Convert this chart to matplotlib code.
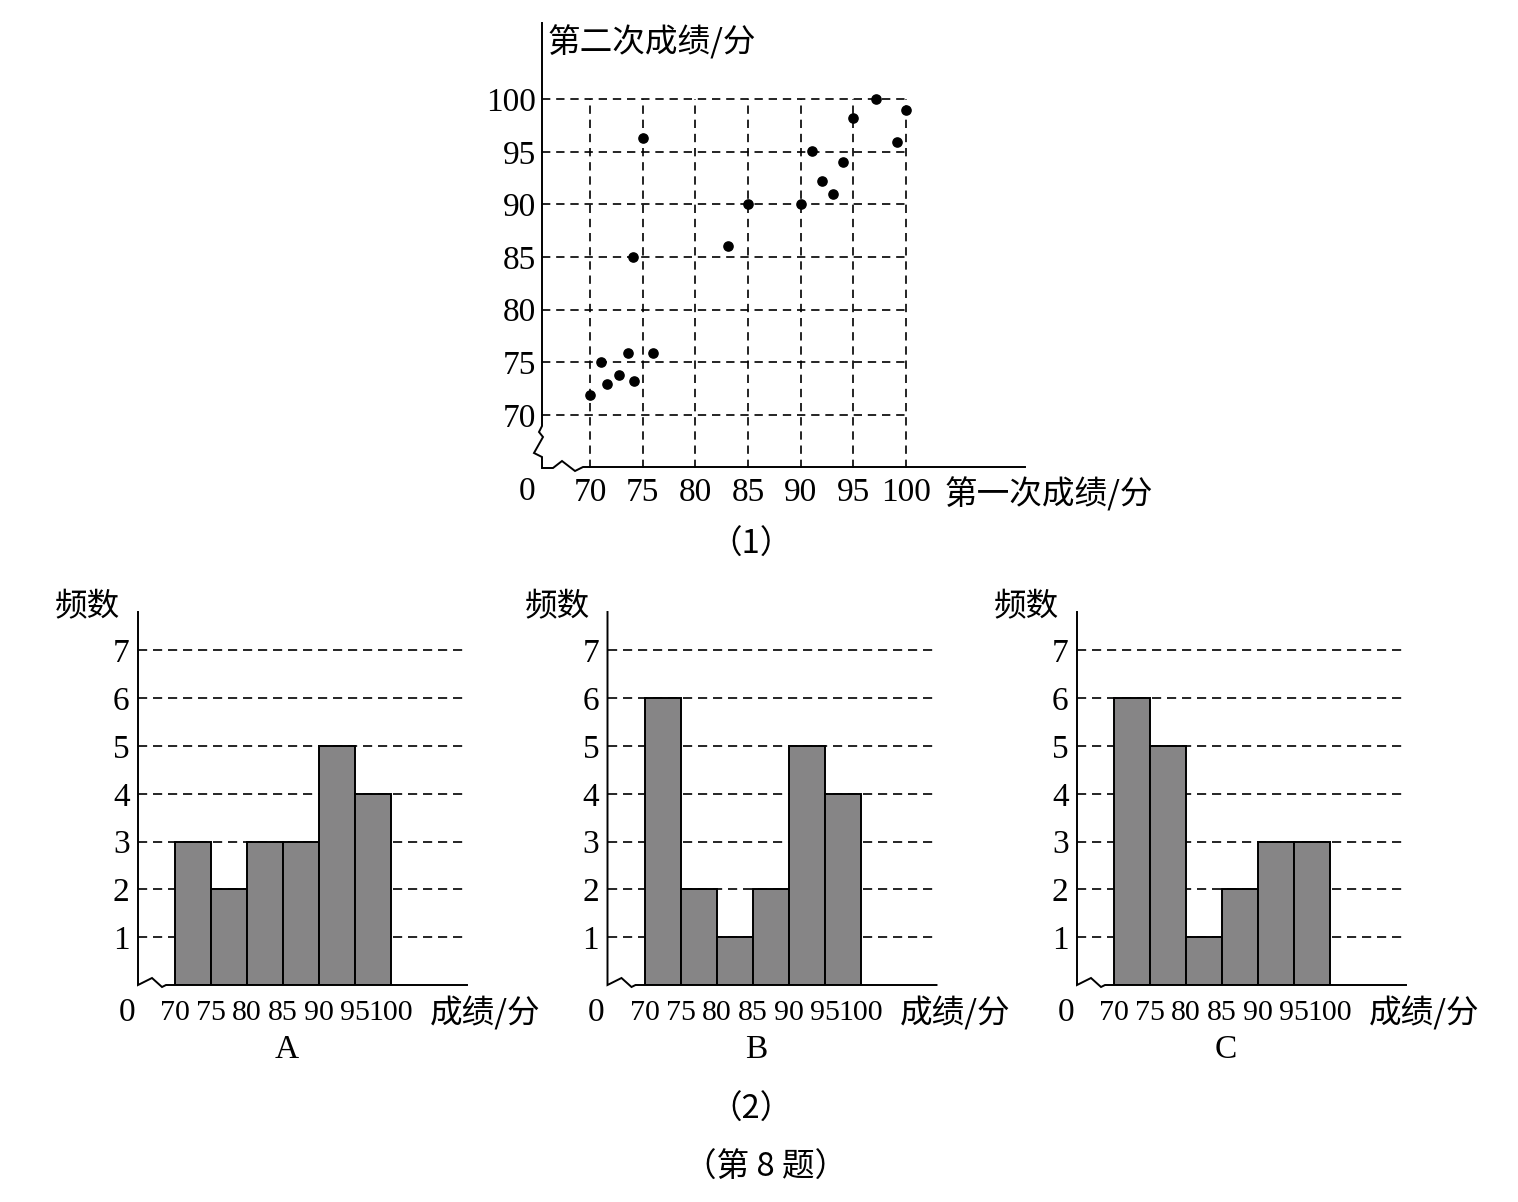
import numpy as np
import matplotlib
matplotlib.use("Agg")
import matplotlib.pyplot as plt

plt.rcParams['font.family'] = ['Liberation Serif', 'Noto Sans CJK SC', 'DejaVu Sans']

# (1) 散点图数据
first_score = [70, 71, 71.6, 72.7, 73.6, 74.2, 76, 74.1, 75, 83.1,
               85, 90, 91.1, 92, 93.1, 94, 95, 97.2, 99.2, 100]
second_score = [71.9, 75, 72.9, 73.8, 75.9, 73.2, 75.9, 85, 96.3, 86.1,
                90, 90, 95.1, 92.2, 91, 94, 98.2, 100, 95.9, 99]
score_ticks = [70, 75, 80, 85, 90, 95, 100]

# (2) 频数分布直方图
bin_edges = [70, 75, 80, 85, 90, 95, 100]
counts_A = [3, 2, 3, 3, 5, 4]
counts_B = [6, 2, 1, 2, 5, 4]
counts_C = [6, 5, 1, 2, 3, 3]
freq_ticks = [1, 2, 3, 4, 5, 6, 7]
hist_names = ['A', 'B', 'C']

W, H = 1518, 1202
fig = plt.figure(figsize=(W / 100, H / 100), dpi=100)
fig.patch.set_facecolor('white')

FS = 24
CJK = ['Noto Sans CJK SC']
CFS = 23.5
LW = 1.4


def fx(px):
    return px / W


def fy(py):
    return 1 - py / H


def ax_rect(left, top, right, bottom):
    return [fx(left), fy(bottom), (right - left) / W, (bottom - top) / H]


def draw_path(ax, corner, offsets):
    # offsets in pixels (dx, dy up) from a data-space corner
    c = ax.transData.transform(corner)
    pts = np.array(offsets, dtype=float) + c
    d = ax.transData.inverted().transform(pts)
    ax.plot(d[:, 0], d[:, 1], color='black', lw=LW, clip_on=False,
            solid_joinstyle='miter', zorder=5)


# ---------------- (1) 散点图 ----------------
ax1 = fig.add_axes(ax_rect(542, 23, 1025, 468))
x0, x1 = 65.43, 111.33
y0, y1 = 64.95, 107.25
ax1.set_xlim(x0, x1)
ax1.set_ylim(y0, y1)
for s in ax1.spines.values():
    s.set_visible(False)

ax1.vlines(score_ticks, y0, 100, colors='black', linestyles=(0, (5, 3.5)), lw=1.2, zorder=1)
ax1.hlines(score_ticks, x0, 100, colors='black', linestyles=(0, (5, 3.5)), lw=1.2, zorder=1)
ax1.scatter(first_score, second_score, s=44, color='black', zorder=4)

ax1.set_xticks(score_ticks)
ax1.set_yticks(score_ticks)
ax1.set_xticklabels([str(t) for t in score_ticks])
ax1.set_yticklabels([str(t) for t in score_ticks])
ax1.tick_params(length=0, labelsize=FS, pad=7)
ax1.tick_params(axis='y', pad=4)

fig.canvas.draw()
# 纵轴 + 折断符号 + 横轴
draw_path(ax1, (x0, y0), [(0, 445), (0, 42), (-3, 36), (1, 31), (-8, 15), (0, 11),
                          (0, 0), (11, 0), (20, 7), (33, -3), (41, 1), (49, 1),
                          (483, 1)])

fig.text(fx(527), fy(492), '0', fontsize=FS, ha='center', va='center')
fig.text(fx(548), fy(42), '第二次成绩/分', fontsize=CFS, family=CJK, ha='left', va='center')
fig.text(fx(945), fy(494), '第一次成绩/分', fontsize=CFS, family=CJK, ha='left', va='center')
fig.text(fx(751), fy(545), '（1）', fontsize=CFS, family=CJK, ha='center', va='center')

# ---------------- (2) 直方图 ----------------
lefts = [138, 607.5, 1077]
for name, counts, left in zip(hist_names, [counts_A, counts_B, counts_C], lefts):
    ax = fig.add_axes(ax_rect(left, 612, left + 329, 985))
    hx0 = 70 - 37 / 7.2
    hx1 = hx0 + 329 / 7.2
    ax.set_xlim(hx0, hx1)
    ax.set_ylim(0, 373 / 47.8)
    for s in ax.spines.values():
        s.set_visible(False)

    ax.hlines(freq_ticks, hx0, hx1, colors='black', linestyles=(0, (5.5, 3.5)), lw=1.2, zorder=1)
    ax.bar(bin_edges[:-1], counts, width=5, align='edge', color='#868586',
           edgecolor='black', linewidth=LW, zorder=3)

    ax.set_xticks(bin_edges)
    ax.set_xticklabels([str(t) for t in bin_edges])
    ax.set_yticks(freq_ticks)
    ax.set_yticklabels([str(t) for t in freq_ticks])
    ax.tick_params(axis='x', length=0, labelsize=21.5, pad=11)
    ax.tick_params(axis='y', length=0, labelsize=FS, pad=6)

    fig.canvas.draw()
    draw_path(ax, (hx0, 0), [(0, 373), (0, 0), (14, 7), (24, -2), (28, 0), (35, 0), (329, 0)])

    fig.text(fx(left - 11), fy(1013), '0', fontsize=FS, ha='center', va='center')
    fig.text(fx(left - 83), fy(607), '频数', fontsize=CFS, family=CJK, ha='left', va='center')
    fig.text(fx(left + 292), fy(1013), '成绩/分', fontsize=CFS, family=CJK, ha='left', va='center')
    fig.text(fx(left + 149), fy(1050), name, fontsize=FS, ha='center', va='center')

fig.text(fx(751), fy(1110), '（2）', fontsize=CFS, family=CJK, ha='center', va='center')
fig.text(fx(766), fy(1168), '（第 8 题）', fontsize=CFS, family=CJK, ha='center', va='center')

fig.savefig('out.png', dpi=100, facecolor='white')
